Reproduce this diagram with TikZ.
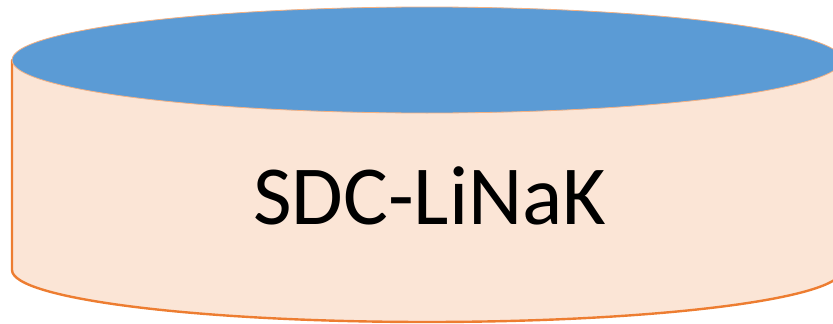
\documentclass[tikz,border=0pt]{standalone}
\usepackage{fontspec}
\setmainfont{Carlito}
\definecolor{topblue}{HTML}{5B9BD5}
\definecolor{bodypeach}{HTML}{FBE5D6}
\definecolor{rimorange}{HTML}{ED7D31}
\tikzset{
  cylbody/.style={fill=bodypeach, draw=rimorange, line width=2.4pt, line join=round},
  cyltop/.style={fill=topblue, draw=rimorange!60, line width=0.8pt},
  cyllabel/.style={font=\fontsize{84}{100}\selectfont, text=black, inner sep=0pt, anchor=base}
}
\begin{document}
\begin{tikzpicture}[x=1pt,y=-1pt]
  \useasboundingbox (0,0) rectangle (833,324);
  \clip (0,0) rectangle (833,324);
  % cylinder side and bottom rim
  \path[cylbody] (12,60) -- (12,270)
    arc[start angle=180, end angle=0, x radius=415, y radius=52]
    -- (842,60) -- cycle;
  \draw[rimorange, line width=0.8pt] (842,60) -- (12,60);
  % top face
  \path[cyltop] (427,60) ellipse[x radius=415, y radius=53];
  \node[cyllabel] (label) at (430,224) {SDC-LiNaK};
\end{tikzpicture}
\end{document}
